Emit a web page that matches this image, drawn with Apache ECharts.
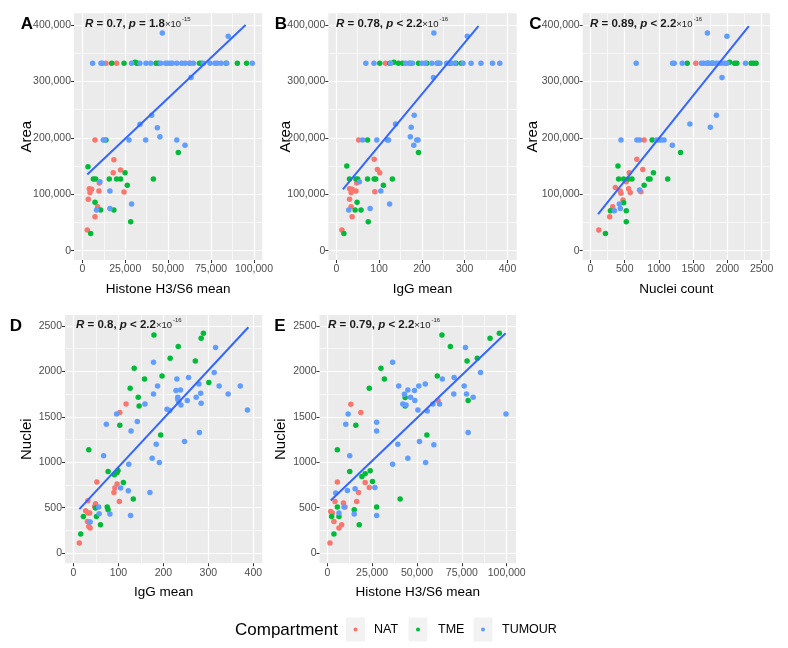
<!DOCTYPE html>
<html>
<head>
<meta charset="utf-8">
<script src="https://cdn.jsdelivr.net/npm/echarts@6/dist/echarts.min.js"></script>
<style>html,body{margin:0;padding:0;background:#fff}#c{width:788px;height:648px}</style>
</head>
<body>
<div id="c"></div>
<script>
// ---------- tick labels ----------
const histTicks = [0, 25000, 50000, 75000, 100000];
const areaTicks = [0, 100000, 200000, 300000, 400000];
const iggTicks = [0, 100, 200, 300, 400];
const countTicks = [0, 500, 1000, 1500, 2000, 2500];
const nucleiTicks = [0, 500, 1000, 1500, 2000, 2500];

const groups = ['NAT', 'TME', 'TUMOUR'];

// ---------- Panel A: Histone H3/S6 mean vs Area ----------
const A_NAT = [[13800,332000],[20000,332000],[62300,332000],[7400,196000],[18400,161000],[18000,138000],[22300,143000],[9900,120000],[4100,110000],[5400,109000],[4500,103000],[3500,91000],[9700,106000],[24300,104000],[8900,78000],[7400,60000],[2900,36600]];
const A_TME = [[17100,332000],[24300,332000],[30700,334000],[31800,332000],[32200,332000],[42900,332000],[44300,332000],[68200,332000],[69500,332000],[83700,332000],[90300,332000],[95700,332000],[13800,196000],[55900,174000],[3300,149000],[24900,138000],[6400,127000],[7800,127000],[15700,127000],[20000,127000],[22300,127000],[41400,127000],[26200,116000],[7400,85700],[10700,72000],[18400,72000],[28200,51400],[4900,30700]];
const A_TUMOUR = [[6000,332000],[10900,332000],[11800,332000],[28700,332000],[33600,332000],[37100,332000],[39800,332000],[45600,332000],[48500,332000],[49700,332000],[51100,332000],[52400,332000],[55000,332000],[57900,332000],[59800,332000],[62700,332000],[64700,332000],[70500,332000],[74400,332000],[77300,332000],[78600,332000],[80800,332000],[84100,332000],[99000,332000],[46600,386000],[85000,380000],[63300,307000],[40400,240000],[33600,224000],[43700,218000],[45200,202000],[36900,196000],[27200,196000],[55000,196000],[59800,187000],[12200,196000],[13000,196000],[10300,122000],[16100,106000],[8300,72000],[16100,75000],[28700,82700]];
const A_FIT = [[2900,135000],[95100,400000]];

// ---------- Panel B: IgG mean vs Area ----------
const B_NAT = [[115,332000],[52.3,196000],[88.5,162000],[96,144000],[101.5,138000],[47.7,120000],[31,110000],[37,109000],[34.6,103000],[31,91000],[46,106000],[90,104600],[34.6,78000],[37,60000],[13,36600]];
const B_TME = [[101.5,332000],[125,332000],[134.6,334000],[145,332000],[155,332000],[173,332000],[192,332000],[211.5,332000],[238,332000],[265,332000],[280,332000],[292,332000],[73,196000],[192,174000],[24.6,150000],[30.8,127000],[46,127000],[50,127000],[73,127000],[88.5,127000],[92,127000],[131,127000],[110,116000],[48.5,85700],[44,72000],[57.7,72000],[74.6,51400],[17.7,30700]];
const B_TUMOUR = [[69,332000],[88,332000],[127,332000],[162,332000],[170,332000],[178,332000],[200,332000],[208,332000],[223,332000],[235,332000],[242,332000],[258,332000],[270,332000],[277,332000],[296,332000],[315,332000],[338,332000],[365,332000],[382,332000],[228,386000],[306,380000],[227,307000],[182,240000],[138.5,224500],[175,218600],[173,202000],[181,187000],[188,196000],[191,196000],[61.5,196000],[94.6,196000],[119,196000],[122,196000],[54,122000],[104,106000],[29,72000],[79,75000],[124.6,82700]];
const B_FIT = [[15.4,108700],[332,398000]];

// ---------- Panel C: Nuclei count vs Area ----------
const C_NAT = [[1538,332000],[783,196000],[677,162000],[764,144000],[566,138000],[522,122000],[363,112000],[435,106000],[445,101600],[556,110000],[580,103000],[735,104600],[474,90000],[324,78000],[280,60000],[121,36600]];
const C_TME = [[1412,332000],[1717,332000],[1780,332000],[2031,334000],[2104,332000],[2137,332000],[2345,332000],[2379,332000],[2418,332000],[900,196000],[1315,174000],[919,138000],[401,150000],[411,127000],[484,127000],[556,127000],[605,127000],[846,127000],[870,127000],[1127,127000],[783,116000],[484,85000],[290,71000],[522,71000],[522,51400],[218,30700]];
const C_TUMOUR = [[667,332000],[1199,332000],[1223,332000],[1340,332000],[1620,332000],[1650,332000],[1693,332000],[1720,332000],[1765,332000],[1800,332000],[1838,332000],[1870,332000],[1910,332000],[1959,332000],[1992,332000],[2263,332000],[1707,386000],[1992,380000],[1920,307000],[1838,240000],[1451,224500],[1750,218600],[1195,187000],[445,196000],[677,196000],[716,196000],[967,196000],[1006,196000],[1040,196000],[1074,196000],[716,107500],[421,82700],[435,75000],[348,71000]];
const C_FIT = [[111,65000],[2312,398000]];

// ---------- Panel D: IgG mean vs Nuclei ----------
const D_NAT = [[117,1642],[103,1547],[52,781],[97,759],[92,715],[90,667],[102,568],[32,575],[49,543],[47,513],[27,466],[32,440],[36,440],[31,348],[34,293],[37,275],[13,110],[232,1690]];
const D_TME = [[179,2401],[289,2420],[284,2365],[233,2273],[215,2145],[271,2115],[135,2035],[158,1917],[197,1950],[126,1815],[144,1716],[146,1620],[103,1408],[194,1301],[301,1877],[34,1136],[77,898],[91,861],[97,887],[99,909],[111,777],[133,594],[75,506],[77,476],[49,495],[51,403],[22,403],[60,312],[16,209]];
const D_TUMOUR = [[316,2262],[178,2100],[230,1917],[256,1932],[279,1862],[313,1987],[324,1840],[371,1840],[344,1752],[387,1576],[187,1840],[178,1752],[228,1789],[238,1796],[273,1716],[283,1760],[232,1716],[253,1679],[234,1668],[239,1631],[284,1650],[208,1584],[214,1569],[159,1642],[142,1448],[96,1532],[73,1419],[128,1345],[280,1327],[184,1199],[247,1228],[191,997],[175,1045],[67,1070],[123,979],[170,667],[105,715],[122,686],[127,414],[81,429],[57,432],[56,506],[37,341]];
const D_FIT = [[13,484],[389,2486]];

// ---------- Panel E: Histone H3/S6 mean vs Nuclei ----------
const E_NAT = [[13100,1639],[18700,1547],[5600,781],[21100,777],[23400,722],[17400,667],[16400,568],[4300,568],[9000,550],[9900,506],[1900,458],[2800,440],[3700,348],[6500,275],[8000,312],[1500,110],[61700,1679]];
const E_TME = [[95900,2420],[90700,2365],[63900,2401],[68600,2273],[77900,2115],[83600,2145],[61300,1950],[29900,2035],[31800,1917],[23400,1815],[43400,1712],[43400,1620],[78500,1679],[15900,1408],[55500,1301],[5600,1136],[12500,898],[19300,843],[21100,872],[23900,905],[25200,788],[40600,594],[27500,506],[15000,476],[5600,506],[6500,403],[2400,403],[17800,312],[3700,209]];
const E_TUMOUR = [[77000,2262],[36400,2100],[64100,1917],[70700,1932],[85400,1987],[76300,1840],[70500,1752],[77600,1752],[81300,1716],[99600,1532],[39800,1840],[43000,1749],[44900,1796],[48600,1789],[51000,1840],[54600,1862],[46400,1716],[48800,1679],[42100,1642],[43900,1631],[50500,1576],[55700,1565],[58900,1642],[62600,1642],[11600,1532],[10300,1419],[27500,1441],[27500,1345],[78500,1327],[39300,1199],[51400,1228],[59400,1191],[44900,1045],[54800,997],[12500,1070],[36400,979],[11200,689],[15500,708],[26500,722],[4700,660],[27500,414],[15000,429],[6500,440],[9300,506]];
const E_FIT = [[1900,579],[99400,2420]];

// ---------- styling / layout ----------
const COLORS = {NAT: '#F8766D', TME: '#00BA38', TUMOUR: '#619CFF'};
const FONT = "'Liberation Sans',Arial,sans-serif";
const comma = v => Math.round(v).toLocaleString('en-US');
const plain = v => String(v);
const mids = t => t.slice(0, -1).map((v, i) => (v + t[i + 1]) / 2);

const panels = [
  {letter:'A', grid:{left:74, top:13.3, width:188.3, height:246.7}, x:{min:-4834, max:104834, ticks:histTicks, fmt:comma, name:'Histone H3/S6 mean'}, y:{min:-16480, max:420740, ticks:areaTicks, fmt:comma, name:'Area', gap:40},
   data:{NAT:A_NAT, TME:A_TME, TUMOUR:A_TUMOUR}, fit:A_FIT, r:'0.7', op:'=', pv:'1.8', exp:'-15', letterPos:[27,24], annPos:[85,24]},
  {letter:'B', grid:{left:328.3, top:13.3, width:188.4, height:246.7}, x:{min:-18.7, max:421.5, ticks:iggTicks, fmt:plain, name:'IgG mean'}, y:{min:-16480, max:420740, ticks:areaTicks, fmt:comma, name:'Area', gap:35},
   data:{NAT:B_NAT, TME:B_TME, TUMOUR:B_TUMOUR}, fit:B_FIT, r:'0.78', op:'<', pv:'2.2', exp:'-16', letterPos:[281,24], annPos:[336,24]},
  {letter:'C', grid:{left:582.7, top:13.3, width:187.3, height:246.7}, x:{min:-114, max:2621, ticks:countTicks, fmt:plain, name:'Nuclei count'}, y:{min:-16480, max:420740, ticks:areaTicks, fmt:comma, name:'Area', gap:42},
   data:{NAT:C_NAT, TME:C_TME, TUMOUR:C_TUMOUR}, fit:C_FIT, r:'0.89', op:'<', pv:'2.2', exp:'-16', letterPos:[535.5,24], annPos:[590,24]},
  {letter:'D', grid:{left:65, top:315, width:197.3, height:248.3}, x:{min:-18.9, max:420, ticks:iggTicks, fmt:plain, name:'IgG mean'}, y:{min:-113, max:2621, ticks:nucleiTicks, fmt:plain, name:'Nuclei', gap:31},
   data:{NAT:D_NAT, TME:D_TME, TUMOUR:D_TUMOUR}, fit:D_FIT, r:'0.8', op:'<', pv:'2.2', exp:'-16', letterPos:[16,326], annPos:[76,325]},
  {letter:'E', grid:{left:319.5, top:315, width:196.5, height:248.3}, x:{min:-4348, max:105184, ticks:histTicks, fmt:comma, name:'Histone H3/S6 mean'}, y:{min:-113, max:2621, ticks:nucleiTicks, fmt:plain, name:'Nuclei', gap:31},
   data:{NAT:E_NAT, TME:E_TME, TUMOUR:E_TUMOUR}, fit:E_FIT, r:'0.79', op:'<', pv:'2.2', exp:'-16', letterPos:[280,326], annPos:[328,325]}
];

const grid = [], xAxis = [], yAxis = [], series = [], graphic = [];

panels.forEach((p, i) => {
  grid.push(Object.assign({show:true, backgroundColor:'#EBEBEB', borderWidth:0, containLabel:false}, p.grid));
  // major x
  xAxis.push({gridIndex:i, type:'value', min:p.x.min, max:p.x.max, position:'bottom',
    axisLine:{show:false, onZero:false},
    axisTick:{show:true, length:3, lineStyle:{color:'#333', width:1}, customValues:p.x.ticks},
    axisLabel:{show:true, customValues:p.x.ticks, margin:4, color:'#4D4D4D', fontSize:10.5, fontFamily:FONT, formatter:p.x.fmt},
    splitLine:{show:true, lineStyle:{color:'#FFFFFF', width:1.2}},
    name:p.x.name, nameLocation:'middle', nameGap:22, nameMoveOverlap:false,
    nameTextStyle:{fontSize:13.5, fontFamily:FONT, color:'#000'}
  });
  // minor x
  xAxis.push({gridIndex:i, type:'value', min:p.x.min, max:p.x.max, position:'top',
    axisLine:{show:false, onZero:false}, axisTick:{show:false, customValues:mids(p.x.ticks)},
    axisLabel:{show:false}, splitLine:{show:true, lineStyle:{color:'#FFFFFF', width:0.6}}});
  // major y
  yAxis.push({gridIndex:i, type:'value', min:p.y.min, max:p.y.max, position:'left',
    axisLine:{show:false, onZero:false},
    axisTick:{show:true, length:3, lineStyle:{color:'#333', width:1}, customValues:p.y.ticks},
    axisLabel:{show:true, customValues:p.y.ticks, margin:3, color:'#4D4D4D', fontSize:10.5, fontFamily:FONT, formatter:p.y.fmt},
    splitLine:{show:true, lineStyle:{color:'#FFFFFF', width:1.2}},
    name:p.y.name, nameLocation:'middle', nameGap:p.y.gap, nameMoveOverlap:false,
    nameTextStyle:{fontSize:15, fontFamily:FONT, color:'#000'}
  });
  // minor y
  yAxis.push({gridIndex:i, type:'value', min:p.y.min, max:p.y.max, position:'right',
    axisLine:{show:false, onZero:false}, axisTick:{show:false, customValues:mids(p.y.ticks)},
    axisLabel:{show:false}, splitLine:{show:true, lineStyle:{color:'#FFFFFF', width:0.6}}});

  groups.forEach(g => {
    series.push({type:'scatter', name:g, xAxisIndex:2*i, yAxisIndex:2*i, data:p.data[g],
      symbol:'circle', symbolSize:5.5, itemStyle:{color:COLORS[g], opacity:1}, silent:true, z:3});
  });
  series.push({type:'line', name:'fit', xAxisIndex:2*i, yAxisIndex:2*i, data:p.fit,
    showSymbol:false, symbol:'none', lineStyle:{color:'#3366FF', width:2}, silent:true, z:4});

  graphic.push({type:'text', x:p.letterPos[0], y:p.letterPos[1], style:{text:p.letter, fill:'#000',
    font:"bold 17px " + FONT, align:'center', verticalAlign:'middle'}, z:10});
  graphic.push({type:'text', x:p.annPos[0], y:p.annPos[1], z:10, style:{
    text:'{i|R}{b| = ' + p.r + ', }{i|p}{b| ' + p.op + ' ' + p.pv + '}{s|\u00d710}{e|' + p.exp + '}',
    verticalAlign:'middle', align:'left',
    rich:{
      i:{fontFamily:FONT, fontSize:11.5, fontWeight:'bold', fontStyle:'italic', fill:'#1a1a1a', lineHeight:16},
      b:{fontFamily:FONT, fontSize:11.5, fontWeight:'bold', fill:'#1a1a1a', lineHeight:16},
      s:{fontFamily:FONT, fontSize:9.5, fill:'#1a1a1a', lineHeight:16},
      e:{fontFamily:FONT, fontSize:6, fill:'#1a1a1a', verticalAlign:'top', lineHeight:16, padding:[0,0,6,1]}
    }}});
});

// legend
graphic.push({type:'text', x:235, y:630, style:{text:'Compartment', font:"17px " + FONT, fill:'#000', verticalAlign:'middle'}});
const keyX = [346, 408.5, 473.5];
const labX = [374, 438, 502];
groups.forEach((g, k) => {
  graphic.push({type:'rect', shape:{x:keyX[k], y:617.5, width:19, height:24}, style:{fill:'#F2F2F2'}});
  graphic.push({type:'circle', shape:{cx:keyX[k] + 9.5, cy:629.5, r:2}, style:{fill:COLORS[g]}});
  graphic.push({type:'text', x:labX[k], y:630, style:{text:g, font:"12.5px " + FONT, fill:'#000', verticalAlign:'middle'}});
});

const chart = echarts.init(document.getElementById('c'), null, {renderer:'canvas'});
chart.setOption({animation:false, backgroundColor:'#fff', grid, xAxis, yAxis, series, graphic});
</script>
</body>
</html>
